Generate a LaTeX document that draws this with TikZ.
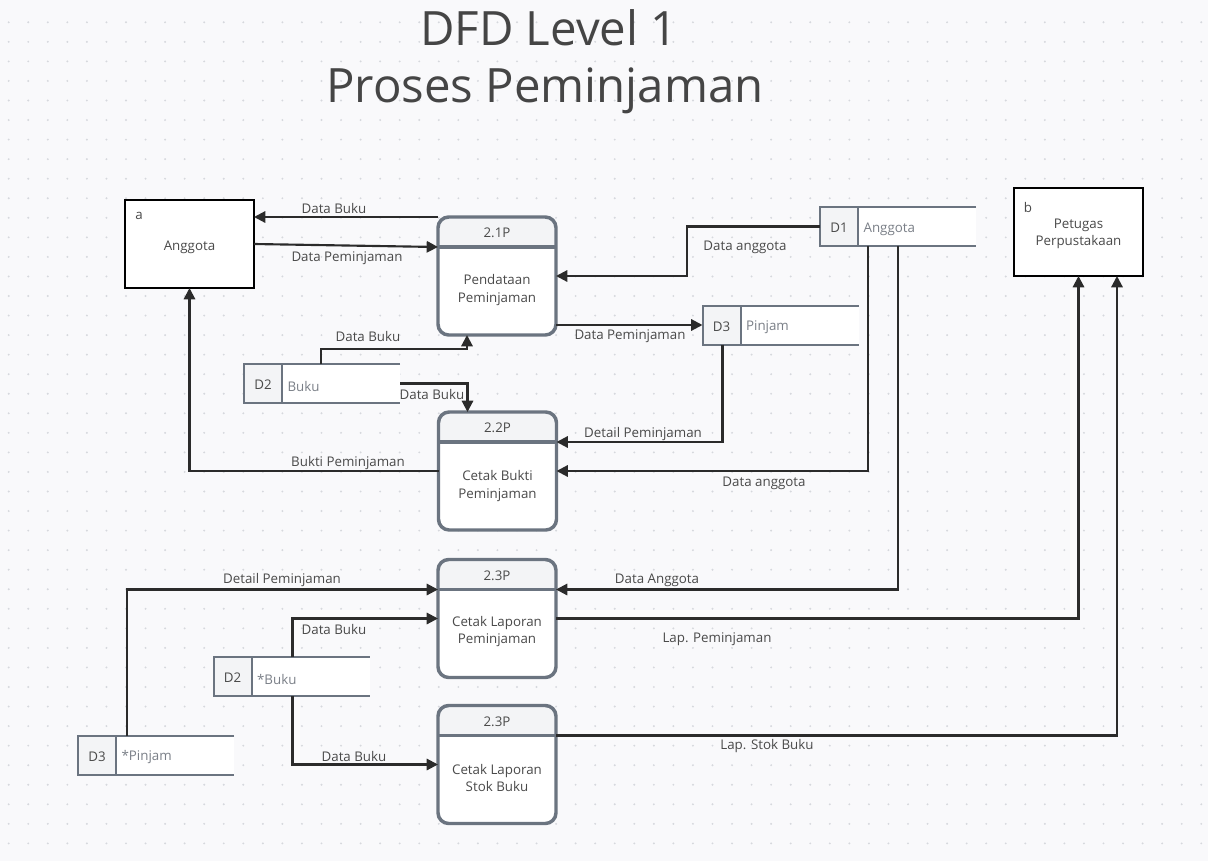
\documentclass[tikz,border=0pt]{standalone}
\usepackage{fontspec}
\setmainfont{Open Sans}
\usetikzlibrary{arrows.meta,calc}
\definecolor{bg}{HTML}{F9F9FB}
\definecolor{dotc}{HTML}{D6D8DD}
\definecolor{pborder}{HTML}{6B7480}
\definecolor{hfill}{HTML}{F3F4F6}
\definecolor{txt}{HTML}{4A4A4A}
\definecolor{ltxt}{HTML}{7A7F87}
\definecolor{flowc}{HTML}{2B2B2B}
\definecolor{titlec}{HTML}{454545}

\newcommand\procbox[5]{%
  \node[procnode] (#1) at (#2) {};
  \coordinate (#1dl) at ($(#1.north west)+(0,30)$);
  \coordinate (#1dr) at ($(#1.north east)+(0,30)$);
  \begin{scope}
    \clip[rounded corners=8pt] (#1.north west) rectangle (#1.south east);
    \fill[white] (#1.north west) rectangle (#1.south east);
    \fill[hfill] (#1.north west) rectangle (#1dr);
  \end{scope}
  \draw[pborder, line width=2.6pt] (#1dl) -- (#1dr);
  \draw[pborder, line width=2.6pt, rounded corners=8pt] (#1.north west) rectangle (#1.south east);
  \node[ptext] (#1id) at ($(#1.north)+(0,16)$) {#3};
  \node[ptext, align=center] (#1body) at ($(#1.center)+(0,#4)$) {#5};
}
\newcommand\storebox[4]{%
  \node[storenode] (#1) at (#2) {};
  \fill[white] (#1.north west) rectangle (#1.south east);
  \fill[hfill] (#1.north west) rectangle ($(#1.south west)+(38,0)$);
  \draw[pborder, line width=1.5pt] (#1.north east) -- (#1.north west) -- (#1.south west) -- (#1.south east);
  \draw[pborder, line width=1.5pt] ($(#1.north west)+(38,0)$) -- ($(#1.south west)+(38,0)$);
  \node[sid] (#1id) at ($(#1.west)+(19,1.5)$) {#3};
  \node[sname, anchor=west] (#1nm) at ($(#1.west)+(42,2.5)$) {#4};
}

\begin{document}
\begin{tikzpicture}[x=0.75pt,y=-0.75pt,
  entity/.style={draw=black, line width=1.5pt, fill=white, minimum width=129*0.75pt,
    minimum height=88*0.75pt, inner sep=0pt, outer sep=0pt},
  etext/.style={text=txt, font=\fontsize{10pt}{13pt}\selectfont, align=center, inner sep=0pt},
  procnode/.style={minimum width=118*0.75pt, minimum height=118*0.75pt, inner sep=0pt, outer sep=0pt},
  storenode/.style={minimum width=156*0.75pt, minimum height=39*0.75pt, inner sep=0pt, outer sep=0pt},
  ptext/.style={text=txt, font=\fontsize{10pt}{13pt}\selectfont, inner sep=1pt},
  sid/.style={text=txt, font=\fontsize{10pt}{13pt}\selectfont, inner sep=1pt},
  sname/.style={text=ltxt, font=\fontsize{10pt}{13pt}\selectfont, inner sep=1pt},
  lbl/.style={text=txt, font=\fontsize{10pt}{13pt}\selectfont, inner sep=1pt},
  flow/.style={draw=flowc, line width=1.6pt, -{Triangle[length=8.5pt,width=8.5pt]}},
  ttl/.style={text=titlec, font=\fontsize{35.5pt}{42pt}\selectfont, inner sep=0pt}
]
\useasboundingbox (0,0) rectangle (1208,861);
\fill[bg] (0,0) rectangle (1208,861);
\foreach \i in {0,...,61} {
  \foreach \j in {0,...,42} {
    \fill[dotc] (8.7+\i*19.55, 22.3+\j*19.55) circle[radius=0.8pt];
  }
}

% Title
\node[ttl] (t1) at (549,28) {DFD Level 1};
\node[ttl] (t2) at (545,91) {Proses Peminjaman};

% Entities
\node[entity] (a) at (189.5,244) {};
\node[etext] (atx) at ($(a.center)+(0,3)$) {Anggota};
\node[etext] (aid) at ($(a.north west)+(14,16)$) {a};
\node[entity] (b) at (1078.5,232) {};
\node[etext] (btx) at ($(b.center)+(0,2)$) {Petugas\\Perpustakaan};
\node[etext] (bid) at ($(b.north west)+(14,19)$) {b};

% Processes
\procbox{p1}{497,276}{2.1P}{14}{Pendataan\\Peminjaman}
\procbox{p2}{497.5,471}{2.2P}{15}{Cetak Bukti\\Peminjaman}
\procbox{p3}{497,618.5}{2.3P}{13}{Cetak Laporan\\Peminjaman}
\procbox{p4}{497,764.5}{2.3P}{13.5}{Cetak Laporan\\Stok Buku}

% Stores
\storebox{d1}{898,226.5}{D1}{Anggota}
\storebox{d3}{780.5,325}{D3}{Pinjam}
\storebox{d2}{322,383.5}{D2}{Buku}
\storebox{d2b}{291.5,676.5}{D2}{*Buku}
\storebox{d3b}{156,755}{D3}{*Pinjam}

% Flows
\draw[flow] (p1.north west) -- (a.east |- p1.north west);
\draw[flow] (a.east) -- (p1dl);
\draw[flow] (d1.west) -- ++(-133,0) |- (p1.east);
\draw[flow] (p1.east |- d3.west) -- (d3.west);
\draw[flow] ($(d2.north west)+(77,0)$) -- ++(0,-15) -| ($(p1.south)+(-30,0)$);
\draw[flow] (d2.east) -| ($(p2.north)+(-30,0)$);
\draw[flow] ($(d3.south west)+(20,0)$) |- (p2dr);
\draw[flow] ($(d1.south west)+(48,0)$) |- (p2.east);
\draw[flow] (p2.west) -| (a.south);
\draw[flow] ($(d3b.north west)+(49,0)$) |- (p3dl);
\draw[flow] ($(d2b.north west)+(79,0)$) |- (p3.west);
\draw[flow] ($(d2b.south west)+(79,0)$) |- (p4.west);
\draw[flow] ($(d1.south west)+(78,0)$) |- (p3dr);
\draw[flow] (p3.east) -| (b.south);
\draw[flow] (p4dr) -| ($(b.south)+(38.5,0)$);

% Labels
\node[lbl] (l1) at (334,208) {Data Buku};
\node[lbl] (l2) at (347,258) {Data Peminjaman};
\node[lbl] (l3) at (745,247) {Data anggota};
\node[lbl] (l4) at (630,336) {Data Peminjaman};
\node[lbl] (l5) at (368,336) {Data Buku};
\node[lbl] (l6) at (432,394) {Data Buku};
\node[lbl] (l7) at (643,434) {Detail Peminjaman};
\node[lbl] (l8) at (764,483) {Data anggota};
\node[lbl] (l9) at (348,463) {Bukti Peminjaman};
\node[lbl] (l10) at (282,580) {Detail Peminjaman};
\node[lbl] (l11) at (334,629) {Data Buku};
\node[lbl] (l12) at (354,756) {Data Buku};
\node[lbl] (l13) at (657,580) {Data Anggota};
\node[lbl] (l14) at (717,639) {Lap. Peminjaman};
\node[lbl] (l15) at (767,746) {Lap. Stok Buku};
\end{tikzpicture}
\end{document}
